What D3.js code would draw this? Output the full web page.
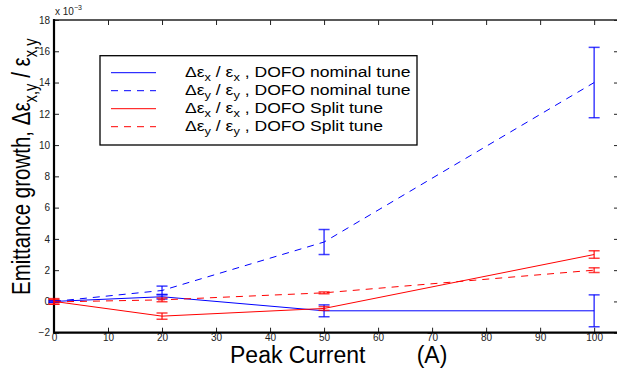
<!DOCTYPE html>
<html>
<head>
<meta charset="utf-8">
<script src="https://cdn.jsdelivr.net/npm/d3@7"></script>
<style>
  body { margin: 0; background: #fff; }
  svg { font-family: "Liberation Sans", Arial, sans-serif; }
  .tick text { font-size: 10px; fill: #222; }
</style>
</head>
<body>
<div id="chart"></div>
<script>
// peak current (A)
var currents = [0, 20, 50, 100];

// emittance growth (x 1e-3) and error half-widths
var nominalX = [0, 0.3, -0.6, -0.6];
var nominalXErr = [0.05, 0.15, 0.38, 1.02];
var nominalY = [0, 0.7, 3.8, 14.0];
var nominalYErr = [0.05, 0.28, 0.8, 2.25];
var splitX = [0, -0.94, -0.45, 3.0];
var splitXErr = [0.18, 0.2, 0.12, 0.24];
var splitY = [-0.03, 0.1, 0.55, 2.0];
var splitYErr = [0.15, 0.12, 0.06, 0.15];

var legendLabels = ["nominal tune", "nominal tune", "Split tune", "Split tune"];
var xTicks = [0, 10, 20, 30, 40, 50, 60, 70, 80, 90, 100];
var yTicks = [-2, 0, 2, 4, 6, 8, 10, 12, 14, 16, 18];

var series = [
    {vals: nominalX, err: nominalXErr, color: "#0000ff", dash: null, sub: "x", label: legendLabels[0]},
    {vals: nominalY, err: nominalYErr, color: "#0000ff", dash: "7,6", sub: "y", label: legendLabels[1]},
    {vals: splitX, err: splitXErr, color: "#ff0000", dash: null, sub: "x", label: legendLabels[2]},
    {vals: splitY, err: splitYErr, color: "#ff0000", dash: "7,6", sub: "y", label: legendLabels[3]}
];

var width = 617, height = 368;
var plotLeft = 54, plotTop = 20, plotRight = 619, plotBottom = 332.7;

var svg = d3.select("#chart").append("svg")
    .attr("width", width)
    .attr("height", height);

var xa = d3.scaleLinear().domain([0, 104.6]).range([plotLeft, plotRight]);
var ya = d3.scaleLinear().domain([-2, 18]).range([plotBottom, plotTop]);

//axes with inward ticks
svg.append("g")
    .attr("transform", "translate(0," + plotBottom + ")")
    .call(d3.axisBottom(xa).tickValues(xTicks).tickSize(-5).tickPadding(1))
    .call(function(g) { g.select(".domain").remove(); });
svg.append("g")
    .attr("transform", "translate(" + plotLeft + ",0)")
    .call(d3.axisLeft(ya).tickValues(yTicks).tickSize(-5).tickPadding(4)
        .tickFormat(function(d) { return d < 0 ? "\u2212" + (-d) : d; }))
    .call(function(g) { g.select(".domain").remove(); });
svg.append("g")
    .attr("transform", "translate(0," + plotTop + ")")
    .call(d3.axisTop(xa).tickValues(xTicks).tickSize(-5).tickFormat(""))
    .call(function(g) { g.select(".domain").remove(); });
svg.append("g")
    .attr("transform", "translate(" + plotRight + ",0)")
    .call(d3.axisRight(ya).tickValues(yTicks).tickSize(-5).tickFormat(""))
    .call(function(g) { g.select(".domain").remove(); });

svg.selectAll(".tick line").attr("stroke", "#222");

//box
svg.append("line").attr("x1", plotLeft).attr("x2", plotRight).attr("y1", plotTop).attr("y2", plotTop)
    .attr("stroke", "#222").attr("stroke-width", 1.3);
svg.append("line").attr("x1", plotLeft).attr("x2", plotRight).attr("y1", plotBottom).attr("y2", plotBottom)
    .attr("stroke", "#000").attr("stroke-width", 2.2);
svg.append("line").attr("x1", plotLeft).attr("x2", plotLeft).attr("y1", plotTop - 1).attr("y2", plotBottom + 1)
    .attr("stroke", "#000").attr("stroke-width", 2.2);

//exponent label
var expo = svg.append("text").attr("x", 55).attr("y", 15).style("font-size", "10px").attr("fill", "#222");
expo.append("tspan").text("x 10");
expo.append("tspan").attr("dy", -5).style("font-size", "7px").text("\u22123");

//lines and error bars
var line = d3.line()
    .x(function(d, i) { return xa(currents[i]); })
    .y(function(d) { return ya(d); });

var cap = 5.5;
series.forEach(function(s) {
    var g = svg.append("g");
    g.append("path")
        .attr("d", line(s.vals))
        .attr("fill", "none")
        .attr("stroke", s.color)
        .attr("stroke-width", 1)
        .attr("stroke-dasharray", s.dash);
    s.vals.forEach(function(v, i) {
        var cx = xa(currents[i]);
        var y1 = ya(v + s.err[i]), y2 = ya(v - s.err[i]);
        g.append("line").attr("x1", cx).attr("x2", cx).attr("y1", y1).attr("y2", y2)
            .attr("stroke", s.color).attr("stroke-width", 1.5).attr("opacity", 0.75);
        [y1, y2].forEach(function(yy) {
            g.append("line").attr("x1", cx - cap).attr("x2", cx + cap).attr("y1", yy).attr("y2", yy)
                .attr("stroke", s.color).attr("stroke-width", 1.5).attr("opacity", 0.75);
        });
    });
});

//legend
var legend = svg.append("g");
legend.append("rect")
    .attr("x", 100).attr("y", 55.7).attr("width", 317).attr("height", 89.3)
    .attr("fill", "#fff").attr("stroke", "#000").attr("stroke-width", 1.3);
series.forEach(function(s, i) {
    var yy = 72.7 + i * 18;
    legend.append("line")
        .attr("x1", 111).attr("x2", 156).attr("y1", yy).attr("y2", yy)
        .attr("stroke", s.color).attr("stroke-width", 1)
        .attr("stroke-dasharray", s.dash);
    var t = legend.append("text")
        .attr("transform", "translate(185," + (yy + 4) + ") scale(1.17,1)")
        .style("font-size", "15px").attr("fill", "#000")
        .attr("xml:space", "preserve");
    t.append("tspan").text("\u0394\u03b5");
    t.append("tspan").attr("dy", 4).style("font-size", "11px").text(s.sub);
    t.append("tspan").attr("dy", -4).text(" / \u03b5");
    t.append("tspan").attr("dy", 4).style("font-size", "11px").text(s.sub);
    t.append("tspan").attr("dy", -4).text(" , DOFO " + s.label);
});

//axis titles
svg.append("text")
    .attr("x", 230).attr("y", 363)
    .style("font-size", "23px").style("white-space", "pre")
    .attr("xml:space", "preserve")
    .text("Peak Current        (A)");

var yt = svg.append("text")
    .attr("transform", "translate(30,295) rotate(-90) scale(0.82,1)")
    .style("font-size", "25px");
yt.append("tspan").text("Emittance growth, \u0394\u03b5");
yt.append("tspan").attr("dy", 7).style("font-size", "18px").text("x,y");
yt.append("tspan").attr("dy", -7).text(" / \u03b5");
yt.append("tspan").attr("dy", 7).style("font-size", "18px").text("x,y");
</script>
</body>
</html>
